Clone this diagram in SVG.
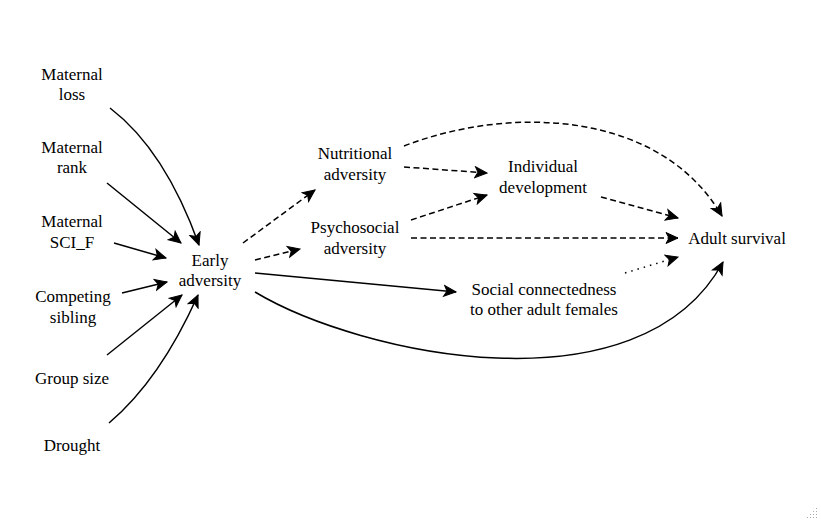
<svg xmlns="http://www.w3.org/2000/svg" width="821" height="523" viewBox="0 0 821 523">
<defs>
<marker id="a" viewBox="0 0 14 14" refX="13" refY="7" markerWidth="14" markerHeight="14" markerUnits="userSpaceOnUse" orient="auto">
<path d="M1,1.5 L13,7 L1,12.5 L4,7 Z" fill="#000" stroke="#000" stroke-width="1" stroke-linejoin="miter"/>
</marker>
</defs>
<rect width="821" height="523" fill="#fff"/>
<g id="connectors" fill="none" stroke="#000" stroke-width="1.5">
<path marker-end="url(#a)" d="M110,108 Q165,150 199,245"/>
<path marker-end="url(#a)" d="M107,183 L181,243"/>
<path marker-end="url(#a)" d="M114,243 L166,258"/>
<path marker-end="url(#a)" d="M122,293 L167,282"/>
<path marker-end="url(#a)" d="M107,355 L182,295"/>
<path marker-end="url(#a)" d="M109,423 Q160,380 198,295"/>
<path marker-end="url(#a)" stroke-dasharray="6 3.5" d="M243,243 L315,190"/>
<path marker-end="url(#a)" stroke-dasharray="6 3.5" d="M255,260 L300,249"/>
<path marker-end="url(#a)" d="M255,273 L456,292"/>
<path marker-end="url(#a)" d="M255,292 C360,355 640,415 723,262"/>
<path marker-end="url(#a)" stroke-dasharray="6 3.5" d="M404,146 C510,105 660,110 722,216"/>
<path marker-end="url(#a)" stroke-dasharray="6 3.5" d="M404,167 L487,173"/>
<path marker-end="url(#a)" stroke-dasharray="6 3.5" d="M411,220 L487,195"/>
<path marker-end="url(#a)" stroke-dasharray="6 3.5" d="M601,197 L678,218"/>
<path marker-end="url(#a)" stroke-dasharray="6 3.5" d="M411,238 L678,238"/>
<path marker-end="url(#a)" stroke-dasharray="1.5 5" d="M625,273 L678,257"/>
</g>
<g id="maternal-loss"><text x="72" y="80" font-family="Liberation Serif" font-size="17" text-anchor="middle">Maternal</text><text x="72" y="100" font-family="Liberation Serif" font-size="17" text-anchor="middle">loss</text></g>
<g id="maternal-rank"><text x="72" y="153" font-family="Liberation Serif" font-size="17" text-anchor="middle">Maternal</text><text x="72" y="173" font-family="Liberation Serif" font-size="17" text-anchor="middle">rank</text></g>
<g id="maternal-sci"><text x="72" y="227" font-family="Liberation Serif" font-size="17" text-anchor="middle">Maternal</text><text x="72" y="248" font-family="Liberation Serif" font-size="17" text-anchor="middle">SCI_F</text></g>
<g id="competing-sibling"><text x="73" y="302" font-family="Liberation Serif" font-size="17" text-anchor="middle">Competing</text><text x="73" y="323" font-family="Liberation Serif" font-size="17" text-anchor="middle">sibling</text></g>
<g id="group-size"><text x="72" y="384" font-family="Liberation Serif" font-size="17" text-anchor="middle">Group size</text></g>
<g id="drought"><text x="72" y="451" font-family="Liberation Serif" font-size="17" text-anchor="middle">Drought</text></g>
<g id="early-adversity"><text x="210" y="266" font-family="Liberation Serif" font-size="17" text-anchor="middle">Early</text><text x="210" y="286" font-family="Liberation Serif" font-size="17" text-anchor="middle">adversity</text></g>
<g id="nutritional-adversity"><text x="355" y="159" font-family="Liberation Serif" font-size="17" text-anchor="middle">Nutritional</text><text x="355" y="180" font-family="Liberation Serif" font-size="17" text-anchor="middle">adversity</text></g>
<g id="psychosocial-adversity"><text x="355" y="233" font-family="Liberation Serif" font-size="17" text-anchor="middle">Psychosocial</text><text x="355" y="254" font-family="Liberation Serif" font-size="17" text-anchor="middle">adversity</text></g>
<g id="individual-development"><text x="543" y="172" font-family="Liberation Serif" font-size="17" text-anchor="middle">Individual</text><text x="543" y="193" font-family="Liberation Serif" font-size="17" text-anchor="middle">development</text></g>
<g id="adult-survival"><text x="737" y="244" font-family="Liberation Serif" font-size="17" text-anchor="middle">Adult survival</text></g>
<g id="social-connectedness"><text x="544" y="295" font-family="Liberation Serif" font-size="17" text-anchor="middle">Social connectedness</text><text x="544" y="315" font-family="Liberation Serif" font-size="17" text-anchor="middle">to other adult females</text></g>
<g id="resize-handle" fill="#aaa">
<rect x="816" y="508" width="1" height="1"/>
<rect x="813" y="511" width="1" height="1"/><rect x="816" y="511" width="1" height="1"/>
<rect x="810" y="514" width="1" height="1"/><rect x="813" y="514" width="1" height="1"/><rect x="816" y="514" width="1" height="1"/>
<rect x="807" y="517" width="1" height="1"/><rect x="810" y="517" width="1" height="1"/><rect x="813" y="517" width="1" height="1"/><rect x="816" y="517" width="1" height="1"/>
</g>
</svg>
